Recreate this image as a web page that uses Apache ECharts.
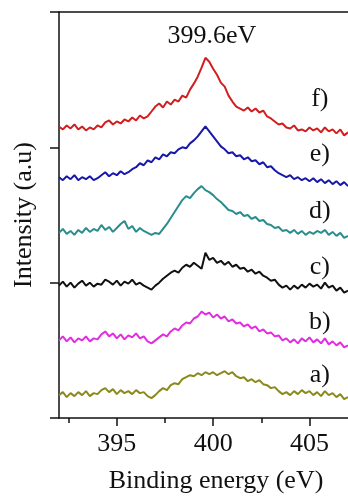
<!DOCTYPE html>
<html>
<head>
<meta charset="utf-8">
<script src="https://cdn.jsdelivr.net/npm/echarts@6/dist/echarts.min.js"></script>
<style>html,body{margin:0;padding:0;background:#fff;}#chart{width:348px;height:499px;}</style>
</head>
<body>
<div id="chart"></div>
<script>
var energies = [392.0,392.2,392.4,392.6,392.8,393.0,393.2,393.4,393.6,393.8,
394.0,394.2,394.4,394.6,394.8,395.0,395.2,395.4,395.6,395.8,
396.0,396.2,396.4,396.6,396.8,397.0,397.2,397.4,397.6,397.8,
398.0,398.2,398.4,398.6,398.8,399.0,399.2,399.4,399.6,399.8,
400.0,400.2,400.4,400.6,400.8,401.0,401.2,401.4,401.6,401.8,
402.0,402.2,402.4,402.6,402.8,403.0,403.2,403.4,403.6,403.8,
404.0,404.2,404.4,404.6,404.8,405.0,405.2,405.4,405.6,405.8,
406.0,406.2,406.4,406.6,406.8,407.0];

var seriesA = [23,26,21,25,22,26,23,27,22,25,
24,28,30,26,29,24,28,25,27,24,
28,25,26,22,20,23,27,30,28,33,
35,34,39,41,43,42,45,43,46,44,
46,43,45,47,44,46,42,40,41,37,
39,36,38,34,33,30,31,27,24,26,
23,27,24,28,25,27,23,26,22,27,
23,25,21,24,19,21];

var seriesB = [78,82,77,81,76,80,78,82,77,80,
79,84,87,82,85,80,84,79,83,81,
85,80,82,77,75,78,81,84,82,87,
90,88,93,96,95,100,102,107,104,106,
101,104,100,102,97,99,95,96,92,94,
90,92,87,89,85,86,82,83,78,80,
76,79,75,80,77,81,76,79,75,80,
74,77,73,76,71,73];

var seriesC = [133,137,132,136,131,135,138,133,136,132,
135,134,139,137,134,138,133,137,135,139,
134,136,133,131,129,133,136,140,143,146,
148,146,151,154,152,156,153,150,166,159,
161,156,158,154,157,152,154,150,151,147,
149,145,147,143,141,138,139,134,131,133,
129,133,130,134,131,135,132,134,130,136,
131,133,128,131,126,128];

var seriesD = [186,190,185,188,184,189,186,191,187,190,
188,194,189,192,187,191,195,198,190,193,
187,191,188,186,184,186,185,190,195,201,
207,213,219,223,221,226,230,233,229,227,
224,220,217,213,209,208,205,207,203,204,
200,202,198,199,195,194,191,192,188,189,
186,189,185,188,184,187,185,188,186,189,
184,187,183,186,181,183];

var seriesE = [242,239,243,240,244,239,242,240,243,239,
241,244,247,243,246,244,248,245,247,250,
252,256,254,259,257,262,260,265,263,267,
266,270,272,271,276,279,283,288,293,288,
283,278,273,270,266,267,263,264,260,262,
258,259,255,257,252,253,249,246,244,242,
244,240,242,239,241,238,241,237,240,236,
239,235,238,234,237,233];

var seriesF = [293,290,294,291,295,290,293,289,292,290,
294,292,297,299,295,298,296,300,298,302,
299,304,301,303,308,313,316,312,318,315,
320,318,324,322,330,336,343,352,362,358,
351,345,337,333,324,318,313,311,309,312,
308,311,307,309,303,301,298,295,296,292,
291,294,289,290,288,292,289,291,287,292,
288,290,286,290,284,287];

var seriesNames = ['a)','b)','c)','d)','e)','f)'];
var seriesValues = [seriesA, seriesB, seriesC, seriesD, seriesE, seriesF];
var seriesColors = ['#8a8a1c','#e02ee0','#111111','#2a8c8c','#1717a8','#d21e1e'];
var labelPos = [[405.54,43],[405.54,96],[405.54,152],[405.54,208],[405.54,265],[405.54,320]];
var peakLabel = '399.6eV';
var peakLabelPos = [399.94,384];
var xMajorTicks = [395,400,405];
var xMinorTicks = [392.5,397.5,402.5];

var FONT = 'Liberation Serif';

var series = seriesValues.map(function(vals, k){
  var s = {
    type:'line',
    name: seriesNames[k],
    xAxisIndex:0,
    data: vals.map(function(v,i){return [energies[i], v];}),
    showSymbol:false,
    symbol:'none',
    lineStyle:{color:seriesColors[k], width:2},
    itemStyle:{color:seriesColors[k]},
    silent:true,
    markPoint:{
      symbol:'circle', symbolSize:0, silent:true,
      label:{show:true, position:'inside', fontFamily:FONT, fontSize:26, color:'#111'},
      data:[{coord:labelPos[k], value:seriesNames[k], label:{formatter:seriesNames[k]}}]
    }
  };
  if (k === 5) {
    s.markPoint.data.push({coord:peakLabelPos, value:peakLabel, label:{formatter:peakLabel}});
  }
  return s;
});

var chart = echarts.init(document.getElementById('chart'), null, {renderer:'canvas'});
chart.setOption({
  animation:false,
  backgroundColor:'#ffffff',
  grid:{left:59, top:12, right:0, bottom:79, containLabel:false},
  xAxis:[
    {
      type:'value', min:392, max:407, position:'bottom',
      axisLine:{show:true, lineStyle:{color:'#111', width:1.5}},
      axisTick:{show:true, length:8, inside:false, customValues:xMajorTicks, lineStyle:{color:'#111', width:1.5}},
      axisLabel:{show:true, customValues:xMajorTicks, fontFamily:FONT, fontSize:26, color:'#111', margin:13},
      splitLine:{show:false},
      name:'Binding energy (eV)', nameLocation:'middle', nameGap:50,
      nameTextStyle:{fontFamily:FONT, fontSize:26, color:'#111', padding:[0,0,0,25]}
    },
    {
      type:'value', min:392, max:407, position:'bottom',
      axisLine:{show:false},
      axisTick:{show:true, length:5, inside:false, customValues:xMinorTicks, lineStyle:{color:'#111', width:1.5}},
      axisLabel:{show:false},
      splitLine:{show:false}
    },
    {
      type:'value', min:392, max:407, position:'top',
      axisLine:{show:true, lineStyle:{color:'#111', width:1.5}},
      axisTick:{show:false},
      axisLabel:{show:false},
      splitLine:{show:false}
    }
  ],
  yAxis:{
    type:'value', min:0, max:408, interval:136,
    axisLine:{show:true, lineStyle:{color:'#111', width:1.5}},
    axisTick:{show:true, length:9, inside:false, lineStyle:{color:'#111', width:1.5}},
    axisLabel:{show:false},
    splitLine:{show:false},
    name:'Intensity (a.u)', nameLocation:'middle', nameGap:22,
    nameTextStyle:{fontFamily:FONT, fontSize:26, color:'#111'}
  },
  series:series
});
</script>
</body>
</html>
